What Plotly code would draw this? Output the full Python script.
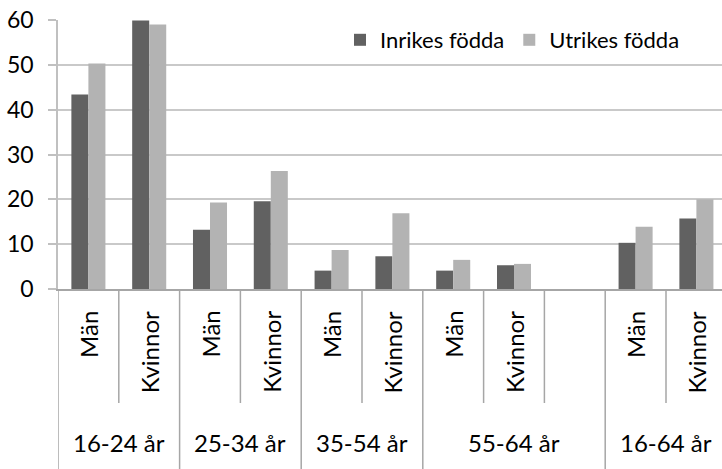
import plotly.graph_objects as go

# ---- data ----
groups = ["16-24 år", "16-24 år", "25-34 år", "25-34 år", "35-54 år", "35-54 år",
          "55-64 år", "55-64 år", "55-64 år", "16-64 år", "16-64 år"]
subs = ["Män", "Kvinnor", "Män", "Kvinnor", "Män", "Kvinnor",
        "Män", "Kvinnor", "", "Män", "Kvinnor"]
inrikes = [43.4, 59.9, 13.2, 19.6, 4.1, 7.3, 4.1, 5.3, None, 10.3, 15.7]
utrikes = [50.3, 59.0, 19.3, 26.3, 8.7, 16.9, 6.5, 5.6, None, 13.9, 20.0]
series_names = ["Inrikes födda", "Utrikes födda"]
y_ticks = [0, 10, 20, 30, 40, 50, 60]

FONT = "Lato"
FS_CAT = 24
FS_TICK = 23
FS_LEG = 22
W, H = 722, 469
ML, MT, MB = 58, 20, 180
plot_h = H - MT - MB
slot_px = 60.8
n = len(subs)
x_idx = list(range(n))
x_max = -0.5 + (W - ML) / slot_px

fig = go.Figure()
fig.add_trace(go.Bar(x=x_idx, y=inrikes, name=series_names[0],
                     marker=dict(color="#616161", line=dict(width=0))))
fig.add_trace(go.Bar(x=x_idx, y=utrikes, name=series_names[1],
                     marker=dict(color="#b3b3b3", line=dict(width=0))))

def py(px_from_zero):
    # convert pixel offset below the zero line to paper coordinate
    return -px_from_zero / plot_h

shapes = []
annotations = []
# separators
for i in range(n):
    b = i - 0.5
    full = (i == 0) or (groups[i] != groups[i - 1])
    y_end = py(H - (MT + plot_h) + 2) if full else py(114)
    shapes.append(dict(type="line", xref="x", yref="paper", x0=b, x1=b, y0=0, y1=y_end,
                       line=dict(color="#a6a6a6", width=1.5)))
# sub labels
for i, s in enumerate(subs):
    if s:
        annotations.append(dict(x=i, y=py(20), xref="x", yref="paper", text=s,
                                textangle=-90, showarrow=False, xanchor="center",
                                yanchor="top", font=dict(family=FONT, size=FS_CAT, color="#000")))
# group labels
seen = []
for g in groups:
    if g not in seen:
        seen.append(g)
for g in seen:
    idx = [i for i, gg in enumerate(groups) if gg == g]
    cx = sum(idx) / len(idx)
    annotations.append(dict(x=cx, y=py(154), xref="x", yref="paper", text=g,
                            showarrow=False, xanchor="center", yanchor="middle",
                            font=dict(family=FONT, size=FS_CAT, color="#000")))

fig.update_layout(
    width=W, height=H,
    margin=dict(l=ML, r=0, t=MT, b=MB, autoexpand=False),
    paper_bgcolor="white", plot_bgcolor="white",
    barmode="group", bargap=0.44, bargroupgap=0,
    font=dict(family=FONT, size=FS_LEG, color="#000"),
    showlegend=True,
    legend=dict(orientation="h", x=(340 - ML) / (W - ML), xanchor="left",
                y=(MT + plot_h - 40) / plot_h, yanchor="middle",
                bgcolor="rgba(0,0,0,0)", font=dict(family=FONT, size=FS_LEG, color="#000"),
                itemclick=False),
    xaxis=dict(range=[-0.5, x_max], showticklabels=False, ticks="", showgrid=False,
               zeroline=False, showline=True, linecolor="#a6a6a6", linewidth=1.5),
    yaxis=dict(range=[0, 60], tickvals=y_ticks, showgrid=True, gridcolor="#c9c9c9",
               gridwidth=1.5, zeroline=False, showline=True, linecolor="#c0c0c0",
               linewidth=1.5, ticks="outside", ticklen=8, tickcolor="#c0c0c0",
               tickwidth=1.5, ticklabelstandoff=10,
               tickfont=dict(family=FONT, size=FS_TICK, color="#000")),
    shapes=shapes, annotations=annotations,
)

fig.write_html("out.html", config={"displayModeBar": False},
               post_script="document.body.style.margin='0';document.body.style.overflow='hidden';")
